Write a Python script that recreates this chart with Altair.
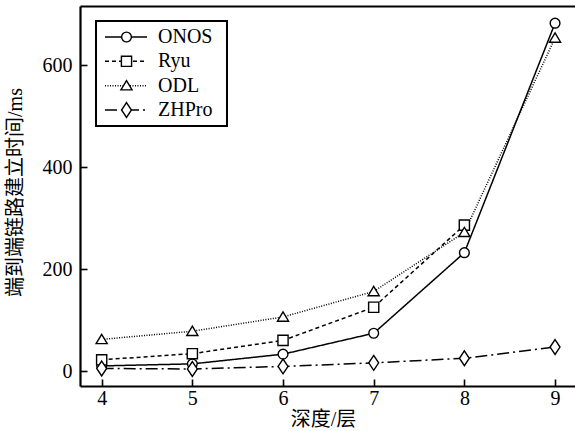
import altair as alt
import pandas as pd

# Tree depth (layers) on the x axis
depth = [4, 5, 6, 7, 8, 9]
series_names = ["ONOS", "Ryu", "ODL", "ZHPro"]

# End-to-end path setup time (ms) per controller
onos = [10, 14, 33, 74, 232, 682]
ryu = [22, 34, 60, 125, 286]
odl = [62, 78, 106, 156, 272, 653]
zhpro = [5, 4, 9, 16, 25, 47]

y_ticks = [0, 200, 400, 600]

rows = []
for name, vals in zip(series_names, [onos, ryu, odl, zhpro]):
    for d, v in zip(depth, vals):
        rows.append({"depth": d, "time": v, "series": name})
df = pd.DataFrame(rows)
legend_df = pd.DataFrame({"series": series_names})

FONT = "'Liberation Serif', 'Times New Roman', 'Noto Sans CJK SC', serif"
W, H = 495, 380

x_scale = alt.Scale(domain=[3.761, 9.22], nice=False, zero=False)
y_scale = alt.Scale(domain=[-29.4, 715.7], nice=False, zero=False)

dash_scale = alt.Scale(domain=series_names,
                       range=[[1, 0], [4, 3], [1, 1.5], [12, 4, 2, 4]])
shape_scale = alt.Scale(domain=series_names,
                        range=["circle", "square",
                               "M0,-0.95L1.05,0.8L-1.05,0.8Z",
                               "M0,-1.35L0.9,0L0,1.35L-0.9,0Z"])
size_scale = alt.Scale(domain=series_names, range=[95, 121, 121, 121])

base = alt.Chart(df)

# Lines, plus the labelled bottom and left axes
lines = base.mark_line(color="black", strokeWidth=1.5).encode(
    x=alt.X("depth:Q", scale=x_scale,
            axis=alt.Axis(orient="bottom", values=depth, ticks=False, tickSize=0,
                          labelPadding=2, labelFont=FONT, labelFontSize=20,
                          labelColor="black",
                          title="深度/层", titleFont=FONT,
                          titleFontSize=20, titleFontWeight="normal",
                          titleX=243, titleY=33, titleBaseline="middle",
                          domainWidth=2.2, domainColor="black")),
    y=alt.Y("time:Q", scale=y_scale,
            axis=alt.Axis(orient="left", values=y_ticks, ticks=False, tickSize=0,
                          labelPadding=8, labelFont=FONT, labelFontSize=20,
                          labelColor="black",
                          title="端到端链路建立时间/ms",
                          titleFont=FONT, titleFontSize=20,
                          titleFontWeight="normal", titleAngle=270,
                          titleX=-65, titleY=186, titleBaseline="middle",
                          titleAlign="center", domainWidth=2.2,
                          domainColor="black")),
    strokeDash=alt.StrokeDash("series:N", scale=dash_scale, legend=None),
    detail="series:N",
)

# Open markers, plus the top frame line
points = base.mark_point(filled=True, fill="white", stroke="black",
                         strokeWidth=1.4, opacity=1).encode(
    x=alt.X("depth:Q", scale=x_scale,
            axis=alt.Axis(orient="top", labels=False, ticks=False, title=None,
                          domainWidth=2.2, domainColor="black")),
    y=alt.Y("time:Q", scale=y_scale, axis=None),
    shape=alt.Shape("series:N", scale=shape_scale, legend=None),
    size=alt.Size("series:N", scale=size_scale, legend=None),
)

# Inward-pointing tick marks: axes on the far side, shifted onto the frame
ticks = base.mark_point(opacity=0).encode(
    x=alt.X("depth:Q", scale=x_scale,
            axis=alt.Axis(orient="top", offset=-H, values=depth, labels=False,
                          domain=False, ticks=True, tickSize=7, tickWidth=1.6,
                          tickColor="black", title=None)),
    y=alt.Y("time:Q", scale=y_scale,
            axis=alt.Axis(orient="right", offset=-W, values=y_ticks, labels=False,
                          domain=False, ticks=True, tickSize=7, tickWidth=1.6,
                          tickColor="black", title=None)),
)

# Legend box
box = alt.Chart(alt.Data(values=[{}])).mark_rect(
    fill="white", stroke="black", strokeWidth=2
).encode(x=alt.value(16), x2=alt.value(147), y=alt.value(15), y2=alt.value(120))

leg_y = alt.Y("series:N", scale=alt.Scale(type="point", domain=series_names,
                                          range=[31, 104], padding=0), axis=None)

leg_lines = alt.Chart(legend_df).mark_rule(color="black", strokeWidth=1.5).encode(
    x=alt.value(25), x2=alt.value(67), y=leg_y,
    strokeDash=alt.StrokeDash("series:N", scale=dash_scale, legend=None),
)
leg_points = alt.Chart(legend_df).mark_point(
    filled=True, fill="white", stroke="black", strokeWidth=1.4, opacity=1
).encode(
    x=alt.value(46.5), y=leg_y,
    shape=alt.Shape("series:N", scale=shape_scale, legend=None),
    size=alt.Size("series:N", scale=size_scale, legend=None),
)
leg_text = alt.Chart(legend_df).mark_text(
    align="left", baseline="middle", font=FONT, fontSize=20, color="black"
).encode(x=alt.value(78), y=leg_y, text="series:N")

chart = alt.layer(
    lines, points, ticks, box, leg_lines, leg_points, leg_text
).resolve_scale(y="independent").resolve_axis(x="independent", y="independent").properties(
    width=W, height=H,
    autosize=alt.AutoSizeParams(type="none"),
    padding={"left": 80, "top": 6, "right": 0, "bottom": 45},
    background="white",
).configure_view(stroke=None).configure_axis(grid=False)

chart.save("out.html", embed_options={"renderer": "svg", "actions": False})
